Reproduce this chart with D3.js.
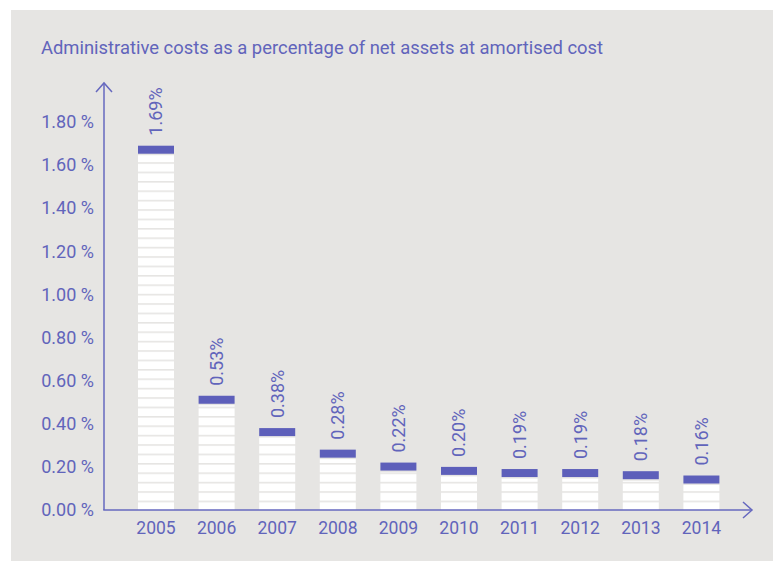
<!DOCTYPE html>
<html>
<head>
<meta charset="utf-8">
<script src="https://cdn.jsdelivr.net/npm/d3@7"></script>
<style>
  html, body { margin: 0; padding: 0; background: #ffffff; }
  svg { display: block; }
  text { font-family: Roboto, "DejaVu Sans", sans-serif; fill: #6164bb; }
</style>
</head>
<body>
<script>
// Administrative costs as a share of net assets at amortised cost, 2005–2014
const years = ["2005", "2006", "2007", "2008", "2009", "2010", "2011", "2012", "2013", "2014"];
const costPct = [1.69, 0.53, 0.38, 0.28, 0.22, 0.20, 0.19, 0.19, 0.18, 0.16];
const valueLabels = ["1.69%", "0.53%", "0.38%", "0.28%", "0.22%", "0.20%", "0.19%", "0.19%", "0.18%", "0.16%"];
const yTicks = [0, 0.2, 0.4, 0.6, 0.8, 1.0, 1.2, 1.4, 1.6, 1.8];
const yTickLabels = ["0.00 %", "0.20 %", "0.40 %", "0.60 %", "0.80 %", "1.00 %", "1.20 %", "1.40 %", "1.60 %", "1.80 %"];
const title = "Administrative costs as a percentage of net assets at amortised cost";

const W = 775, H = 561;
const purple = "#5d5fba";
const axisColor = "#6668bf";
const textColor = "#6164bb";
const panelColor = "#e6e5e3";

const svg = d3.select("body").append("svg")
  .attr("width", W).attr("height", H);

// grey panel
svg.append("rect")
  .attr("x", 11).attr("y", 10)
  .attr("width", W - 11 - 2).attr("height", H - 10)
  .attr("fill", panelColor);

const baseY = 510, axisX = 104;

const y = d3.scaleLinear().domain([0, 1.8]).range([baseY, 122]);
const x = d3.scaleBand().domain(years)
  .range([125.7, 731.7])
  .paddingInner(0.406).paddingOuter(0.203);

// striped fill for the bar bodies, anchored to the baseline
const period = 9.4, gap = 1.6;
const defs = svg.append("defs");
const pat = defs.append("pattern")
  .attr("id", "stripes")
  .attr("patternUnits", "userSpaceOnUse")
  .attr("x", 0).attr("y", baseY)
  .attr("width", W).attr("height", period);
pat.append("rect").attr("x", 0).attr("y", 0).attr("width", W).attr("height", period).attr("fill", panelColor);
pat.append("rect").attr("x", 0).attr("y", gap).attr("width", W).attr("height", period - gap).attr("fill", "#ffffff");

// title
svg.append("text")
  .attr("x", 41).attr("y", 54)
  .attr("font-size", 18.4)
  .text(title);

// y tick labels
const yAxis = d3.axisLeft(y)
  .tickValues(yTicks)
  .tickFormat((d, i) => yTickLabels[i])
  .tickSize(0)
  .tickPadding(10);
const gy = svg.append("g")
  .attr("transform", `translate(${axisX},0)`)
  .call(yAxis);
gy.select(".domain").remove();
gy.selectAll("text")
  .attr("font-size", 18)
  .attr("font-family", "Roboto, sans-serif")
  .attr("fill", textColor);

// x tick labels
const xAxis = d3.axisBottom(x).tickSize(0).tickPadding(12);
const gx = svg.append("g")
  .attr("transform", `translate(0,${baseY})`)
  .call(xAxis);
gx.select(".domain").remove();
gx.selectAll("text")
  .attr("font-size", 17.5)
  .attr("font-family", "Roboto, sans-serif")
  .attr("fill", textColor);

// bars: striped body + solid cap
const capH = 8, capGap = 1.5;
const bars = svg.append("g").selectAll("g")
  .data(years.map((yr, i) => ({ yr, v: costPct[i], label: valueLabels[i] })))
  .join("g");

bars.append("rect")
  .attr("x", d => x(d.yr))
  .attr("width", x.bandwidth())
  .attr("y", d => y(d.v) + capH + capGap)
  .attr("height", d => baseY - (y(d.v) + capH + capGap))
  .attr("fill", "url(#stripes)");

bars.append("rect")
  .attr("x", d => x(d.yr))
  .attr("width", x.bandwidth())
  .attr("y", d => y(d.v))
  .attr("height", capH)
  .attr("fill", purple);

// rotated value labels above each bar
bars.append("text")
  .attr("transform", d => `translate(${x(d.yr) + x.bandwidth() / 2},${y(d.v) - 10}) rotate(-90)`)
  .attr("dy", "0.36em")
  .attr("font-size", 18)
  .attr("text-anchor", "start")
  .text(d => d.label);

// axis lines with open arrowheads
const axes = svg.append("g")
  .attr("fill", "none")
  .attr("stroke", axisColor)
  .attr("stroke-width", 1.5);
axes.append("line").attr("x1", axisX).attr("y1", baseY).attr("x2", axisX).attr("y2", 83);
axes.append("polyline").attr("points", `${axisX - 8},${83 + 9} ${axisX},83 ${axisX + 8},${83 + 9}`);
axes.append("line").attr("x1", axisX - 0.75).attr("y1", baseY).attr("x2", 752).attr("y2", baseY);
axes.append("polyline").attr("points", `${752 - 9},${baseY - 8} 752,${baseY} ${752 - 9},${baseY + 8}`);
</script>
</body>
</html>
